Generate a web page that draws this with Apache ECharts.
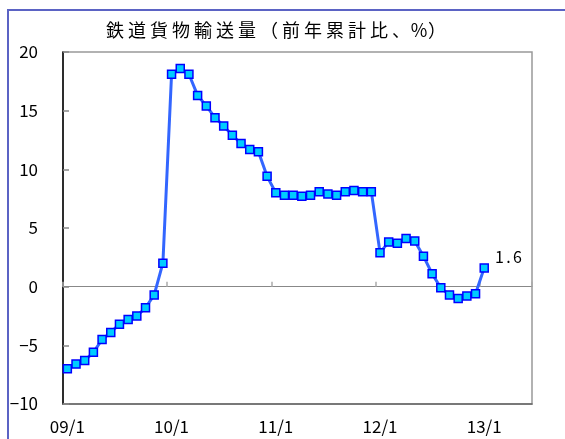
<!DOCTYPE html>
<html>
<head>
<meta charset="utf-8">
<script src="https://cdn.jsdelivr.net/npm/echarts@6/dist/echarts.min.js"></script>
<style>
  html, body { margin: 0; padding: 0; background: #fff; }
  #chart { width: 565px; height: 439px; }
</style>
</head>
<body>
<div id="chart"></div>
<script>
// 鉄道貨物輸送量 前年累計比（%）, monthly 09/1 – 13/1
const titleText = '鉄道貨物輸送量（前年累計比、%）';

const years = ['09', '10', '11', '12', '13'];
const lastYearMonths = 6;   // axis runs through 13/6
const yTicks = { min: -10, max: 20, step: 5 };

const values = [
  -7.0, -6.6, -6.3, -5.6, -4.5, -3.9, -3.2, -2.8, -2.5, -1.8, -0.7, 2.0,
  18.1, 18.6, 18.1, 16.3, 15.4, 14.4, 13.7, 12.9, 12.2, 11.7, 11.5, 9.4,
  8.0, 7.8, 7.8, 7.7, 7.8, 8.1, 7.9, 7.8, 8.1, 8.2, 8.1, 8.1,
  2.9, 3.8, 3.7, 4.1, 3.9, 2.6, 1.1, -0.1, -0.7, -1.0, -0.8, -0.6,
  1.6
];

// category labels: "09/1", "09/2", ...
const categories = [];
years.forEach(function (y, yi) {
  const n = yi === years.length - 1 ? lastYearMonths : 12;
  for (let m = 1; m <= n; m++) categories.push(y + '/' + m);
});

const FONT = '"Noto Sans CJK JP", "Noto Sans", sans-serif';

// text split into fixed-width glyph cells
function spaced(str, style, narrowStyle, narrowChars) {
  return str.split('').map(function (ch) {
    return '{' + (narrowChars.indexOf(ch) >= 0 ? narrowStyle : style) + '|' + ch + '}';
  }).join('');
}

const chart = echarts.init(document.getElementById('chart'), null, { renderer: 'canvas' });

const seriesData = values.map(function (v, i) {
  if (i !== values.length - 1) return v;
  return {
    value: v,
    label: {
      show: true,
      position: 'right',
      offset: [1, -11],
      formatter: function (p) {
        return spaced(String(p.value), 'd', 'd', '');
      },
      rich: {
        d: { width: 9, align: 'center', fontSize: 16, fontFamily: FONT, color: '#000' }
      }
    }
  };
});

chart.setOption({
  animation: false,
  backgroundColor: '#fff',
  title: {
    text: spaced(titleText, 'c', 'n', '%'),
    left: 99,
    top: 15,
    textStyle: {
      fontSize: 18,
      fontWeight: 'normal',
      fontFamily: FONT,
      color: '#000',
      rich: {
        c: { width: 22, align: 'center', fontSize: 18, fontFamily: FONT, color: '#000', lineHeight: 20 },
        n: { width: 14, align: 'center', fontSize: 18, fontFamily: FONT, color: '#000', lineHeight: 20 }
      }
    }
  },
  graphic: [
    {
      type: 'polyline',
      shape: { points: [[8, 439], [8, 10], [565, 10]] },
      style: { stroke: '#5b63c4', lineWidth: 2, fill: null },
      silent: true
    }
  ],
  grid: {
    left: 63, top: 52, right: 33, bottom: 35,
    show: true,
    borderColor: '#999',
    borderWidth: 1.5,
    containLabel: false
  },
  xAxis: [
    {
      type: 'category',
      data: categories,
      position: 'bottom',
      boundaryGap: true,
      axisLine: { show: true, onZero: false, lineStyle: { color: '#666', width: 1.5 } },
      axisTick: { show: false },
      axisLabel: {
        interval: 11,
        margin: 14,
        fontSize: 17,
        fontFamily: FONT,
        color: '#000'
      },
      splitLine: { show: false }
    },
    {
      type: 'category',
      data: categories,
      position: 'top',
      boundaryGap: true,
      axisLine: { show: true, onZero: true, lineStyle: { color: '#888', width: 1 } },
      axisTick: { show: true, inside: false, interval: 11, length: 5, lineStyle: { color: '#aaa', width: 1.5 } },
      axisLabel: { show: false },
      splitLine: { show: false }
    }
  ],
  yAxis: {
    type: 'value',
    min: yTicks.min,
    max: yTicks.max,
    interval: yTicks.step,
    axisLine: { show: true, onZero: false, lineStyle: { color: '#000', width: 1.5 } },
    axisTick: { show: true, inside: true, length: 6, lineStyle: { color: '#888', width: 1.5 } },
    axisLabel: {
      margin: 25,
      fontSize: 17,
      fontFamily: FONT,
      color: '#000',
      formatter: function (v) { return v < 0 ? '−' + Math.abs(v) : String(v); }
    },
    splitLine: { show: false }
  },
  series: [
    {
      type: 'line',
      xAxisIndex: 0,
      data: seriesData,
      symbol: 'rect',
      symbolSize: 8,
      showAllSymbol: true,
      lineStyle: { color: '#3366ff', width: 3 },
      itemStyle: { color: '#00ccff', borderColor: '#0000ff', borderWidth: 1.5 },
      z: 3
    }
  ]
});
</script>
</body>
</html>
